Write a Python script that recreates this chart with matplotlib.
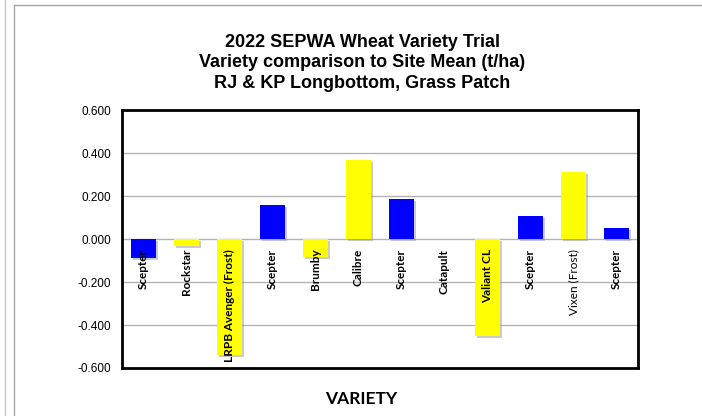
import matplotlib.pyplot as plt
import matplotlib.patheffects as pe
from matplotlib.lines import Line2D

# values (t/ha difference from site mean)
varieties = ["Scepter", "Rockstar", "LRPB Avenger (Frost)", "Scepter", "Brumby",
             "Calibre", "Scepter", "Catapult", "Valiant CL", "Scepter",
             "Vixen (Frost)", "Scepter"]
diff_tha = [-0.088, -0.034, -0.540, 0.158, -0.085, 0.369, 0.186, 0.0,
            -0.449, 0.108, 0.314, 0.052]
yticks = [-0.6, -0.4, -0.2, 0.0, 0.2, 0.4, 0.6]

colors = ["#0000FF" if v == "Scepter" else "#FFFF00" for v in varieties]

fig = plt.figure(figsize=(7.02, 4.16), dpi=100)
ax = fig.add_axes([0.1738, 0.1154, 0.735, 0.62])

x = list(range(len(varieties)))
bars = ax.bar(x, diff_tha, width=0.58, color=colors, zorder=3)
for b in bars:
    b.set_path_effects([pe.SimplePatchShadow(offset=(1.5, -1.5), shadow_rgbFace="#999999", alpha=0.5),
                        pe.Normal()])

# category labels sit inside the plot just under the zero line
for xi, name in zip(x, varieties):
    weight = "normal" if name == "Vixen (Frost)" else "bold"
    ax.annotate(name, (xi, 0), xytext=(0, -7), textcoords="offset points",
                rotation=90, ha="center", va="top", fontsize=8.5,
                fontweight=weight, family="Lato", zorder=5)

ax.set_xlim(-0.5, len(varieties) - 0.5)
ax.set_ylim(-0.6, 0.6)
ax.set_yticks(yticks)
ax.set_yticklabels([f"{t:.3f}" for t in yticks], family="Liberation Sans", fontsize=8.5)
ax.set_xticks([])
ax.tick_params(axis="y", length=0, pad=8)
ax.grid(axis="y", color="#b3b3b3", linewidth=1, zorder=0)
for s in ax.spines.values():
    s.set_linewidth(2)
    s.set_color("black")

fig.text(0.5157, 0.918,
         "2022 SEPWA Wheat Variety Trial\nVariety comparison to Site Mean (t/ha)\nRJ & KP Longbottom, Grass Patch",
         ha="center", va="top", fontsize=13, fontweight="bold",
         family="Liberation Sans", linespacing=1.25)
fig.text(0.514, 0.041, "VARIETY", ha="center", va="center", fontsize=12.5,
         fontweight="bold", family="Lato")

# chart area border lines
fig.add_artist(Line2D([14 / 702, 14 / 702], [0, 1 - 5 / 416], color="#a6a6a6", lw=1))
fig.add_artist(Line2D([14 / 702, 1], [1 - 5 / 416, 1 - 5 / 416], color="#a6a6a6", lw=1))
fig.add_artist(Line2D([5 / 702, 5 / 702], [0, 1], color="#c8c8c8", lw=1))

fig.savefig("out.png", dpi=100)
